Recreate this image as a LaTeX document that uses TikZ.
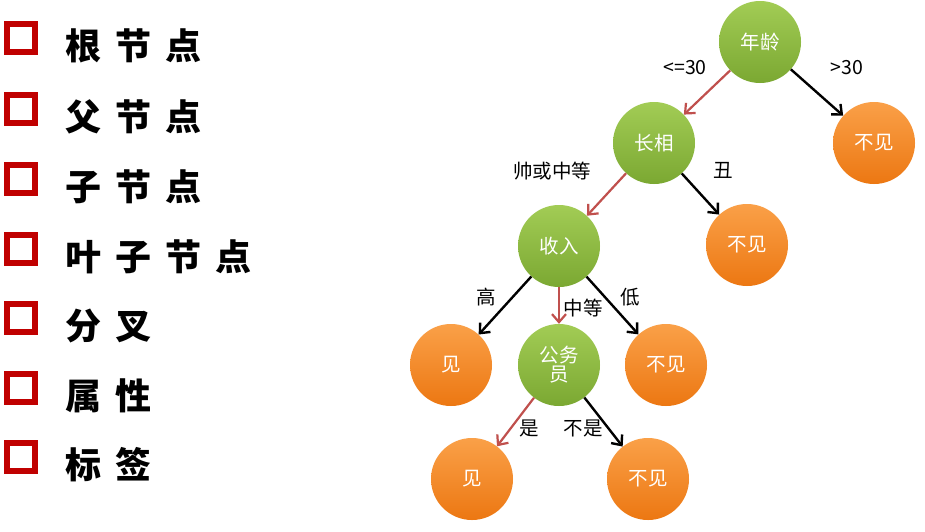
\documentclass[tikz,border=0pt]{standalone}
\usepackage{fontspec}
\setmainfont{Noto Sans CJK SC}
\usetikzlibrary{arrows.meta}
\definecolor{sqred}{HTML}{C00000}
\definecolor{arrred}{HTML}{C0504D}
\definecolor{greenT}{HTML}{A2CC55}
\definecolor{greenB}{HTML}{7BA832}
\definecolor{orangeT}{HTML}{FAA048}
\definecolor{orangeB}{HTML}{EC7712}
\newcommand{\kgap}{\hspace{14pt}}
\tikzset{
  sq/.style={draw=sqred, line width=6pt, minimum size=28pt, inner sep=0pt, fill=white},
  item/.style={anchor=base west, inner sep=0pt, font=\fontsize{36}{40}\selectfont\bfseries},
  dnode/.style={circle, minimum size=82pt, inner sep=0pt, text=white,
    font=\fontsize{19.5}{21}\selectfont, align=center},
  gnode/.style={dnode, top color=greenT, bottom color=greenB},
  onode/.style={dnode, top color=orangeT, bottom color=orangeB},
  elab/.style={inner sep=0pt, font=\fontsize{19.5}{21}\selectfont},
  barr/.style={draw=black, line width=2.4pt, -{Straight Barb[length=8pt,width=14pt,line width=2.4pt]}},
  rarr/.style={draw=arrred, line width=2.2pt, -{Straight Barb[length=8pt,width=14pt,line width=2.2pt]}},
}
\begin{document}
\begin{tikzpicture}[x=1pt,y=-1pt]
\useasboundingbox[fill=white] (0,0) rectangle (925,531);
% left list
\node[sq] (s1) at (21,38) {};
\node[sq] (s2) at (21,109) {};
\node[sq] (s3) at (21,179) {};
\node[sq] (s4) at (21,249) {};
\node[sq] (s5) at (21,318) {};
\node[sq] (s6) at (21,388) {};
\node[sq] (s7) at (21,457) {};
\node[item] (t1) at (65,59) {根\kgap 节\kgap 点};
\node[item] (t2) at (65,130) {父\kgap 节\kgap 点};
\node[item] (t3) at (65,200) {子\kgap 节\kgap 点};
\node[item] (t4) at (65,270) {叶\kgap 子\kgap 节\kgap 点};
\node[item] (t5) at (65,339) {分\kgap 叉};
\node[item] (t6) at (65,409) {属\kgap 性};
\node[item] (t7) at (65,478) {标\kgap 签};
% tree nodes
\node[gnode] (age) at (760,42) {年龄};
\node[onode] (no1) at (874,143) {不见};
\node[gnode] (look) at (654,143) {长相};
\node[onode] (no2) at (747,245) {不见};
\node[gnode] (inc) at (559,246) {收入};
\node[onode] (yes1) at (451,365) {见};
\node[gnode] (civ) at (559,365) {公务\\[-2pt]员};
\node[onode] (no3) at (666,365) {不见};
\node[onode] (yes2) at (472,479) {见};
\node[onode] (no4) at (648,479) {不见};
% edges
\draw[rarr] (age) -- (look);
\draw[barr] (age) -- (no1);
\draw[rarr] (look) -- (inc);
\draw[barr] (look) -- (no2);
\draw[barr] (inc) -- (yes1);
\draw[rarr] (inc) -- (civ);
\draw[barr] (inc) -- (no3);
\draw[rarr] (civ) -- (yes2);
\draw[barr] (civ) -- (no4);
% edge labels
\node[elab] (l1) at (685,68) {<=30};
\node[elab] (l2) at (847,68) {>30};
\node[elab] (l3) at (552,171) {帅或中等};
\node[elab] (l4) at (723,170) {丑};
\node[elab] (l5) at (486,297) {高};
\node[elab] (l6) at (583,308) {中等};
\node[elab] (l7) at (630,297) {低};
\node[elab] (l8) at (529,428) {是};
\node[elab] (l9) at (583,428) {不是};
\end{tikzpicture}
\end{document}
